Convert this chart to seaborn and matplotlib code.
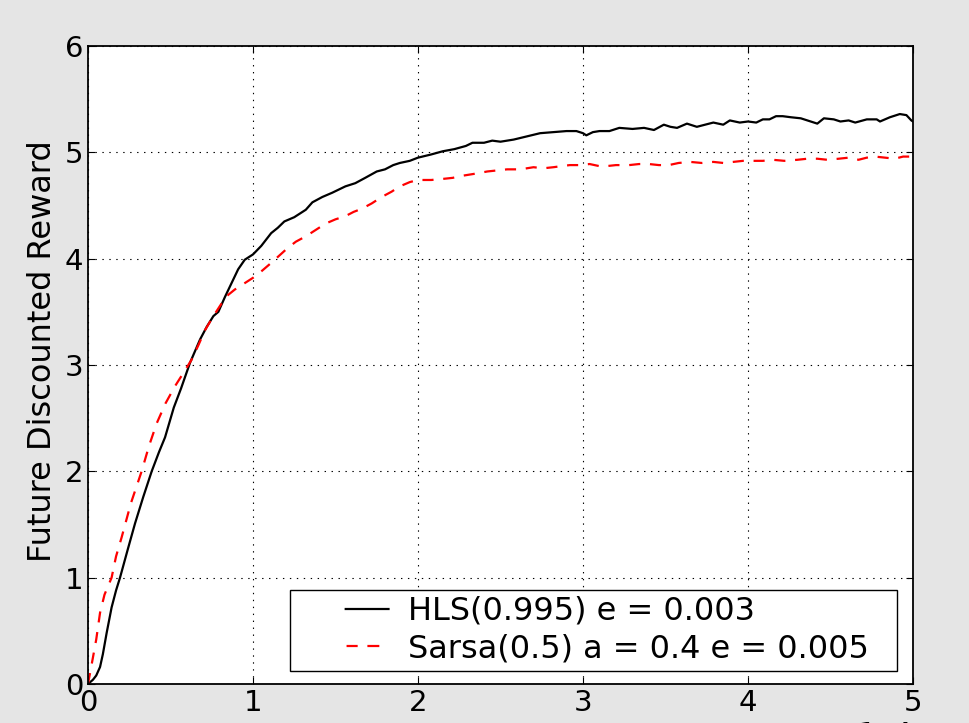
import matplotlib
matplotlib.use("Agg")
import matplotlib.pyplot as plt
import seaborn as sns
from matplotlib.lines import Line2D

# ---- data (episodes, future discounted reward) ----
hls_episodes = [0, 300, 500, 730, 900, 1130, 1430, 1700, 1940, 2400, 2850, 3350, 3860,
                4300, 4670, 5200, 5640, 6180, 6790, 7200, 7600, 7900, 8300, 8700, 9100,
                9500, 10000, 10500, 11100, 11500, 11900, 12500, 13200, 13600, 14200,
                14800, 15600, 16200, 16800, 17500, 18000, 18500, 18900, 19500, 20000,
                20800, 21500, 22200, 22900, 23300, 24000, 24500, 25000, 25800, 26600,
                27400, 28200, 29000, 29600, 30000, 30200, 30600, 31000, 31600, 32200,
                33000, 33700, 34300, 34900, 35300, 35700, 36300, 36900, 37400, 37900,
                38500, 38900, 39500, 40000, 40500, 40900, 41300, 41700, 42100, 42600,
                43200, 43600, 44000, 44200, 44600, 45200, 45600, 46100, 46500, 47200,
                47800, 48000, 48600, 49200, 49600, 49900, 50000]
hls_reward = [0.00, 0.04, 0.08, 0.16, 0.28, 0.48, 0.72, 0.88, 1.00, 1.26, 1.51, 1.76, 2.00,
              2.18, 2.32, 2.60, 2.78, 3.02, 3.24, 3.36, 3.46, 3.50, 3.64, 3.77, 3.90,
              3.99, 4.04, 4.12, 4.24, 4.29, 4.35, 4.39, 4.46, 4.53, 4.58,
              4.62, 4.68, 4.71, 4.76, 4.82, 4.84, 4.88, 4.90, 4.92, 4.95,
              4.98, 5.01, 5.03, 5.06, 5.09, 5.09, 5.11, 5.10, 5.12, 5.15,
              5.18, 5.19, 5.20, 5.20, 5.18, 5.16, 5.19, 5.20, 5.20, 5.23,
              5.22, 5.23, 5.21, 5.26, 5.24, 5.23, 5.27, 5.24, 5.26, 5.28,
              5.26, 5.30, 5.28, 5.29, 5.28, 5.31, 5.31, 5.34, 5.34, 5.33,
              5.32, 5.30, 5.28, 5.27, 5.32, 5.31, 5.29, 5.30, 5.28, 5.31,
              5.31, 5.29, 5.33, 5.36, 5.35, 5.30, 5.29]

sarsa_episodes = [0, 300, 500, 730, 1000, 1430, 1700, 2040, 2600, 3250, 3700, 4160, 4700,
                  5270, 5800, 6280, 6700, 7100, 7600, 8100, 8500, 8900, 9500, 10000,
                  10500, 11100, 11600, 12100, 12600, 13200, 13800, 14400, 15000, 15600,
                  16100, 16600, 17200, 17800, 18400, 18900, 19500, 20000, 20800, 21500,
                  22100, 22700, 23500, 24200, 24800, 25400, 26200, 27000, 27600, 28200,
                  29200, 29800, 30400, 31000, 31400, 32000, 32800, 33400, 34000, 34600,
                  35200, 35800, 36500, 37200, 37900, 38500, 39100, 39700, 40300, 40900,
                  41500, 42200, 43000, 43600, 44200, 44800, 45500, 46100, 46700, 47200,
                  47700, 48300, 48900, 49400, 49900, 50000]
sarsa_reward = [0.00, 0.25, 0.42, 0.67, 0.84, 1.00, 1.20, 1.38, 1.70, 2.00, 2.24, 2.45, 2.64,
                2.80, 2.93, 3.05, 3.19, 3.33, 3.46, 3.58, 3.66, 3.71, 3.77, 3.82,
                3.88, 3.96, 4.03, 4.10, 4.16, 4.21, 4.27, 4.33, 4.37, 4.40,
                4.44, 4.47, 4.52, 4.58, 4.63, 4.68, 4.72, 4.74, 4.74, 4.75,
                4.76, 4.78, 4.80, 4.82, 4.83, 4.84, 4.84, 4.86, 4.85, 4.86,
                4.88, 4.88, 4.89, 4.87, 4.87, 4.88, 4.88, 4.89, 4.89, 4.88,
                4.88, 4.90, 4.91, 4.90, 4.91, 4.90, 4.91, 4.92, 4.92, 4.92,
                4.93, 4.92, 4.93, 4.94, 4.94, 4.93, 4.94, 4.95, 4.93, 4.95,
                4.96, 4.95, 4.94, 4.96, 4.96, 4.97]

labels = ["HLS(0.995) e = 0.003", "Sarsa(0.5) a = 0.4 e = 0.005"]
x_ticks = [0, 10000, 20000, 30000, 40000, 50000]
y_ticks = [0, 1, 2, 3, 4, 5, 6]
ylabel = "Future Discounted Reward"

# ---- figure ----
plt.rcParams["lines.scale_dashes"] = False
plt.rcParams["font.family"] = ["DejaVu Sans"]

fig = plt.figure(figsize=(9.69, 7.23), dpi=100, facecolor="#e5e5e5")
ax = fig.add_axes([88 / 969, 1 - 684 / 723, 825 / 969, 638 / 723])
ax.set_facecolor("white")

sns.lineplot(x=hls_episodes, y=hls_reward, ax=ax, color="black", lw=1.6,
             estimator=None, sort=False)
sns.lineplot(x=sarsa_episodes, y=sarsa_reward, ax=ax, color="red", lw=1.6,
             linestyle=(0, (8, 7)), estimator=None, sort=False)

ax.set_xlim(0, 50000)
ax.set_ylim(0, 6)
ax.set_xticks(x_ticks)
ax.set_yticks(y_ticks)
ax.ticklabel_format(axis="x", style="sci", scilimits=(0, 0))
ax.xaxis.get_offset_text().set_fontsize(21)
ax.tick_params(direction="in", top=True, right=True, length=5, width=0.8,
               labelsize=21, pad=3.5, colors="black")
ax.grid(True, color="black", linestyle=(0, (1, 4)), lw=0.8)
for s in ax.spines.values():
    s.set_linewidth(1.3)
    s.set_color("black")

ax.set_ylabel(ylabel, fontsize=23, labelpad=5)
ax.yaxis.label.set_y(0.521)
ax.set_xlabel("")

F = 23
h_black = Line2D([], [], color="black", lw=1.6, linestyle=(32.4, (32.4, 35.0)))
h_red = Line2D([], [], color="red", lw=1.6, linestyle=(31.0, (8.0, 7.0, 8.6, 43.8)))
leg = ax.legend([h_black, h_red], labels, loc="lower left",
                bbox_to_anchor=(0.2448, 0.0208, 0.7358, 0.2), mode="expand",
                fontsize=F, handlelength=67.4 / F, handletextpad=0.565,
                borderpad=0.2, labelspacing=0.2, borderaxespad=0.0,
                fancybox=False, framealpha=1, edgecolor="black")
leg.get_frame().set_linewidth(1.0)

fig.savefig("out.png", dpi=100, facecolor=fig.get_facecolor())
